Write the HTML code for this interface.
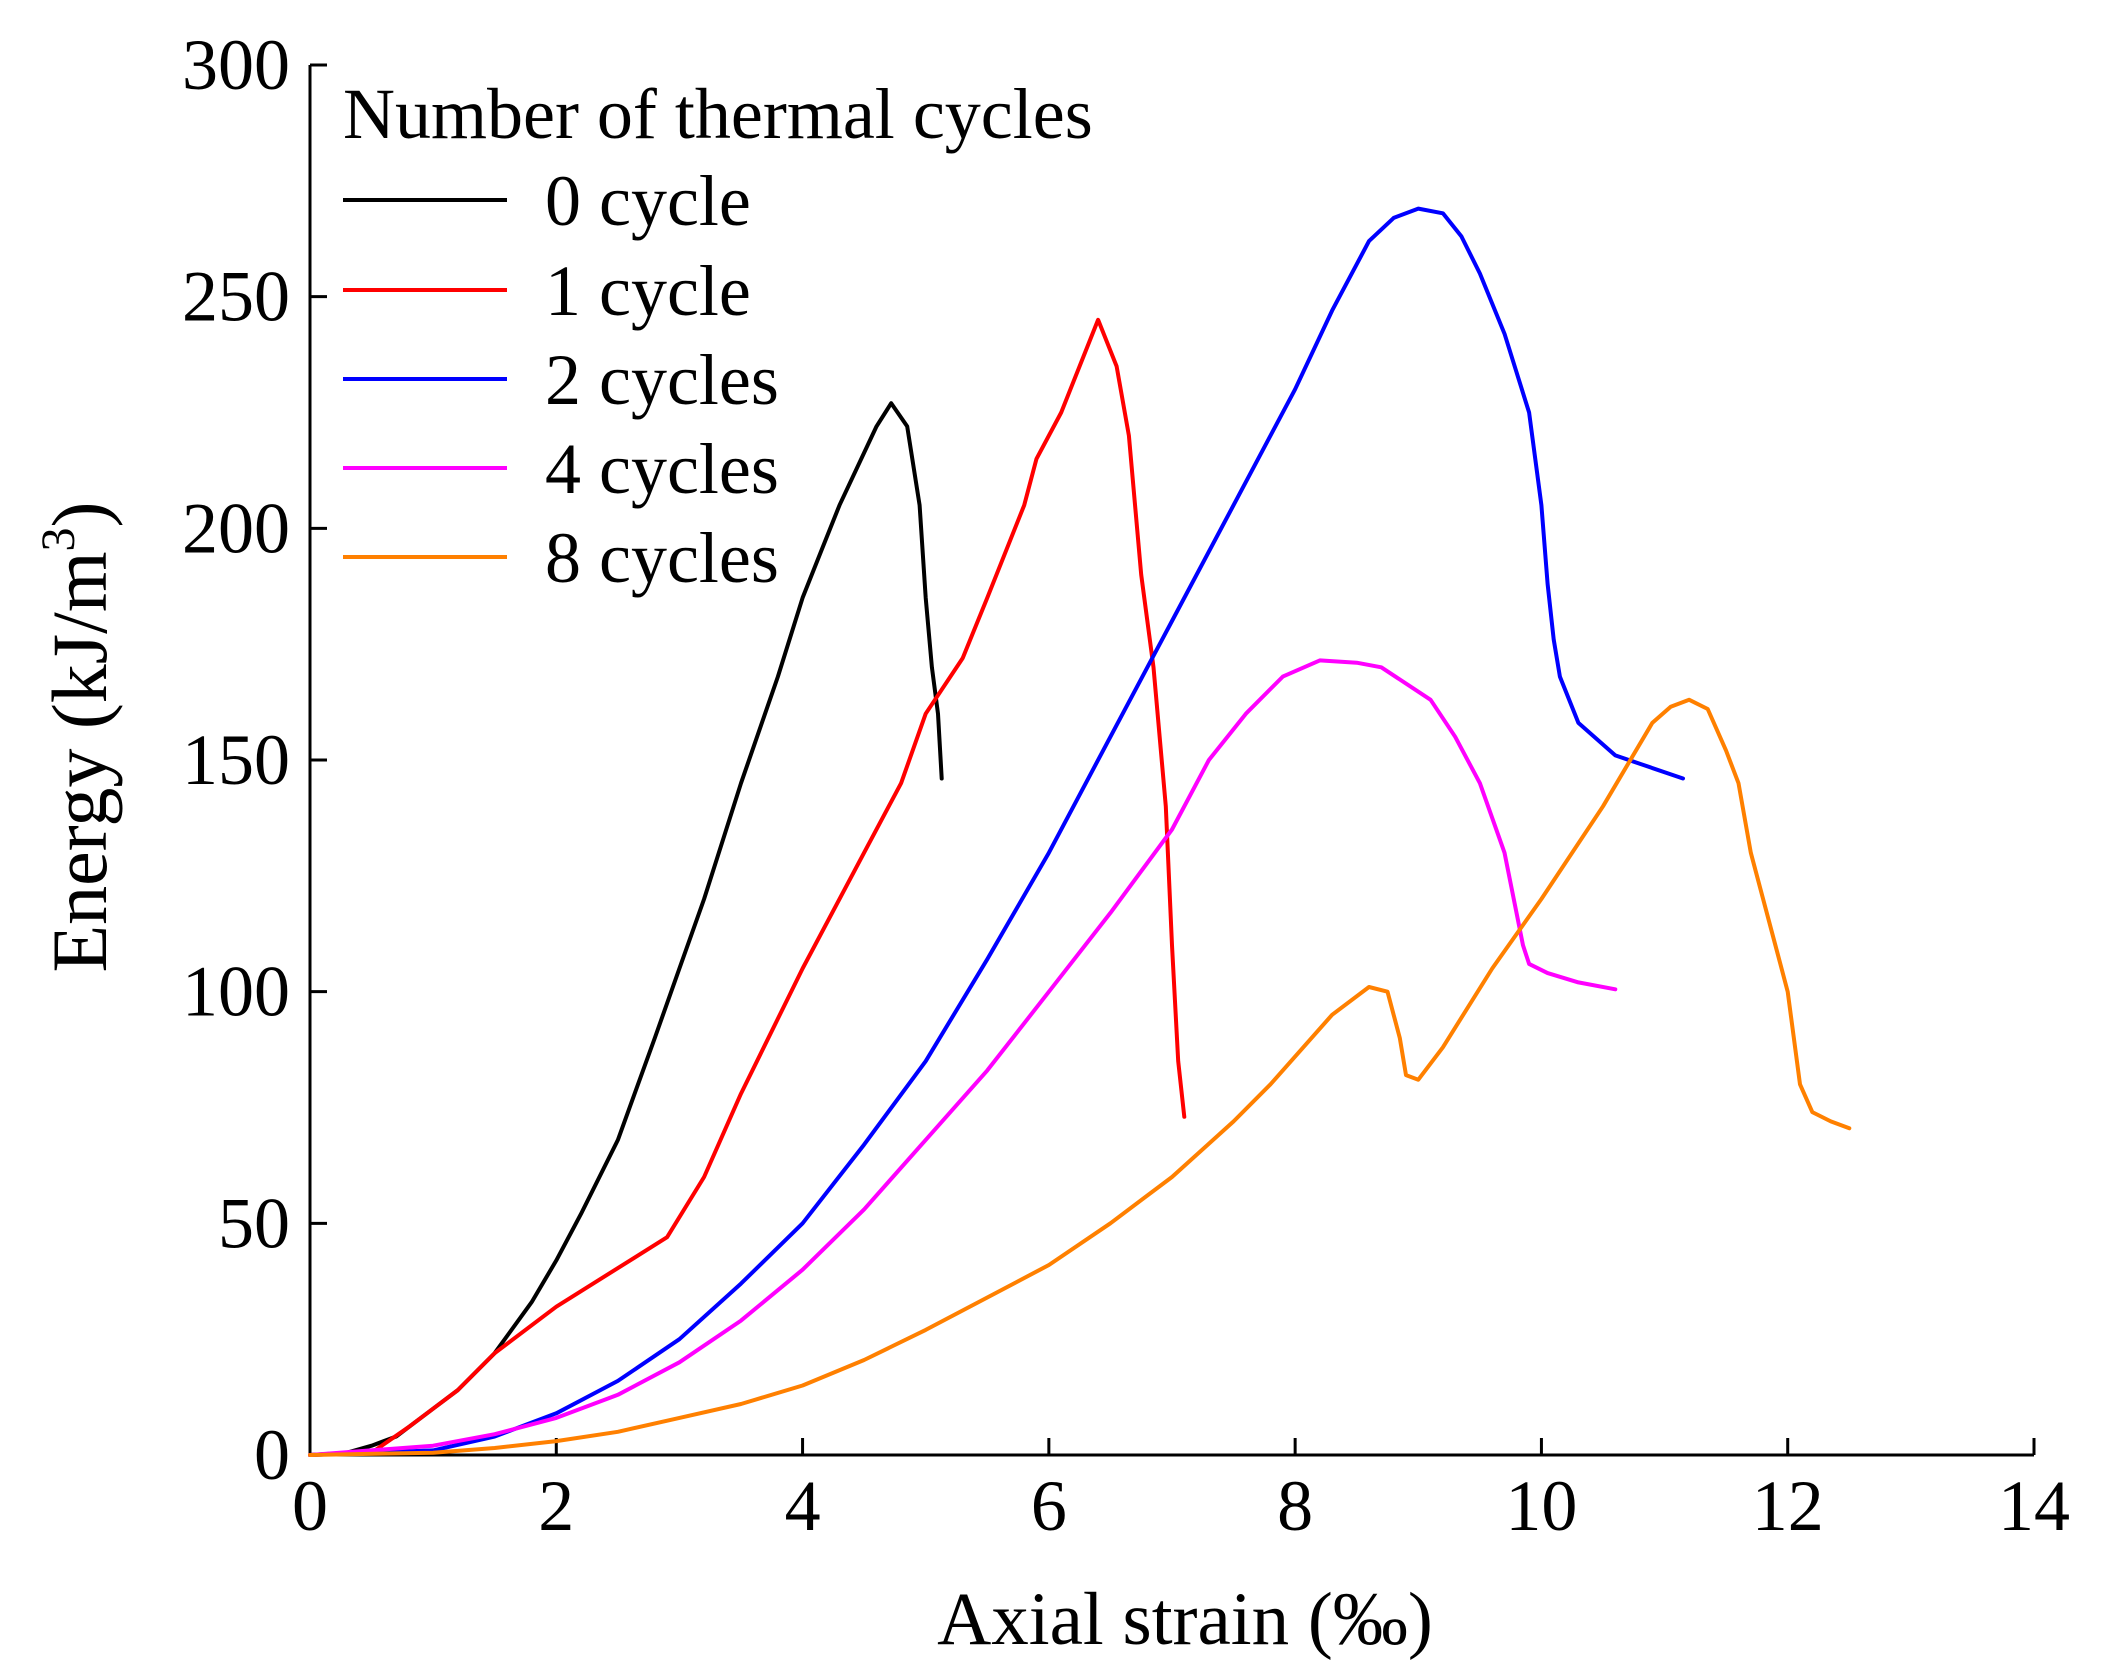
<!DOCTYPE html>
<html><head><meta charset="utf-8"><style>
html,body{margin:0;padding:0;background:#fff;}
svg{display:block;font-family:"Liberation Serif",serif;}
</style></head><body>
<svg id="chart" width="2124" height="1679" viewBox="0 0 2124 1679" xmlns="http://www.w3.org/2000/svg">
<g id="axes"></g>
<g id="series"></g>
<g id="legend"></g>
<text x="1185" y="1644" font-size="75" text-anchor="middle">Axial strain (‰)</text>
<text transform="translate(106,737) rotate(-90)" font-size="78" text-anchor="middle">Energy (kJ/m<tspan font-size="48" dy="-32">3</tspan><tspan dy="32">)</tspan></text>
</svg>
<script>
const xTicks=[0,2,4,6,8,10,12,14];
const yTicks=[0,50,100,150,200,250,300];
const seriesNames=["0 cycle","1 cycle","2 cycles","4 cycles","8 cycles"];
const seriesColors=["#000000","#ff0000","#0000ff","#ff00ff","#ff8000"];
const s0x=[0,0.3,0.5,0.7,1,1.2,1.5,1.8,2,2.2,2.5,2.8,3,3.2,3.5,3.8,4,4.15,4.3,4.6,4.72,4.85,4.95,5.0,5.05,5.1,5.13];
const s0y=[0,0.5,2,4,10,14,22,33,42,52,68,90,105,120,145,168,185,195,205,222,227,222,205,185,170,160,146];
const s1x=[0,0.5,0.8,1,1.2,1.5,2,2.9,3.2,3.5,4,4.5,4.8,5,5.3,5.5,5.8,5.9,6.1,6.25,6.4,6.55,6.65,6.75,6.85,6.95,7.0,7.05,7.1];
const s1y=[0,0.5,6,10,14,22,32,47,60,78,105,130,145,160,172,185,205,215,225,235,245,235,220,190,170,140,110,85,73];
const s2x=[0,1,1.5,2,2.5,3,3.5,4,4.5,5,5.5,6,6.5,7,8,8.3,8.6,8.8,9,9.2,9.35,9.5,9.7,9.9,10.0,10.05,10.1,10.15,10.3,10.6,11.15];
const s2y=[0,1,4,9,16,25,37,50,67,85,107,130,155,180,230,247,262,267,269,268,263,255,242,225,205,188,176,168,158,151,146];
const s3x=[0,1,1.5,2,2.5,3,3.5,4,4.5,5,5.5,6,6.5,7,7.3,7.6,7.9,8.2,8.5,8.7,9.1,9.3,9.5,9.7,9.85,9.9,10.05,10.3,10.6];
const s3y=[0,2,4.5,8,13,20,29,40,53,68,83,100,117,135,150,160,168,171.5,171,170,163,155,145,130,110,106,104,102,100.5];
const s4x=[0,1,1.5,2,2.5,3,3.5,4,4.5,5,5.5,6,6.5,7,7.5,7.8,8.3,8.6,8.75,8.85,8.9,9.0,9.2,9.6,10.0,10.5,10.9,11.05,11.2,11.35,11.5,11.6,11.7,11.8,11.9,12,12.1,12.2,12.35,12.5];
const s4y=[0,0.5,1.5,3,5,8,11,15,20.5,27,34,41,50,60,72,80,95,101,100,90,82,81,88,105,120,140,158,161.5,163,161,152,145,130,120,110,100,80,74,72,70.5];
const allX=[s0x,s1x,s2x,s3x,s4x], allY=[s0y,s1y,s2y,s3y,s4y];

const X0=310,X1=2034,Y0=1455,Y1=65;
const sx=v=>X0+(v-0)/(14-0)*(X1-X0);
const sy=v=>Y0-(v-0)/(300-0)*(Y0-Y1);
const NS="http://www.w3.org/2000/svg";
function mk(tag,attrs,parent){const e=document.createElementNS(NS,tag);for(const k in attrs)e.setAttribute(k,attrs[k]);parent.appendChild(e);return e;}
const axes=document.getElementById('axes');
let a=mk('path',{d:`M${X0} ${Y1}V${Y0}H${X1}`,fill:'none',stroke:'#000','stroke-width':3},axes);


xTicks.forEach(t=>{
  const l=mk('line',{x1:sx(t),x2:sx(t),y1:Y0,y2:Y0-17,stroke:'#000','stroke-width':3},axes);
  
  
  const tx=mk('text',{x:sx(t),y:1530,'font-size':72,'text-anchor':'middle'},axes);
  tx.textContent=t;
  
  
});
yTicks.forEach(t=>{
  const l=mk('line',{x1:X0,x2:X0+17,y1:sy(t),y2:sy(t),stroke:'#000','stroke-width':3},axes);
  
  
  const tx=mk('text',{x:290,y:sy(t)+24,'font-size':72,'text-anchor':'end'},axes);
  tx.textContent=t;
  
  
});
const sg=document.getElementById('series');
allX.forEach((xs,i)=>{
  const d=xs.map((x,j)=>(j?'L':'M')+sx(x).toFixed(1)+' '+sy(allY[i][j]).toFixed(1)).join('');
  const p=mk('path',{d:d,fill:'none',stroke:seriesColors[i],'stroke-width':4,'stroke-linejoin':'round','stroke-linecap':'round'},sg);
  
  
});
const lg=document.getElementById('legend');
const lt=mk('text',{x:343,y:138,'font-size':72},lg);
lt.textContent='Number of thermal cycles';


const legY=[200,290,379,468,557];
seriesNames.forEach((n,i)=>{
  const l=mk('line',{x1:343,x2:507,y1:legY[i],y2:legY[i],stroke:seriesColors[i],'stroke-width':4},lg);
  
  
  const t=mk('text',{x:545,y:legY[i]+25,'font-size':72},lg);
  t.textContent=n;
  
  
});
</script>
</body></html>
